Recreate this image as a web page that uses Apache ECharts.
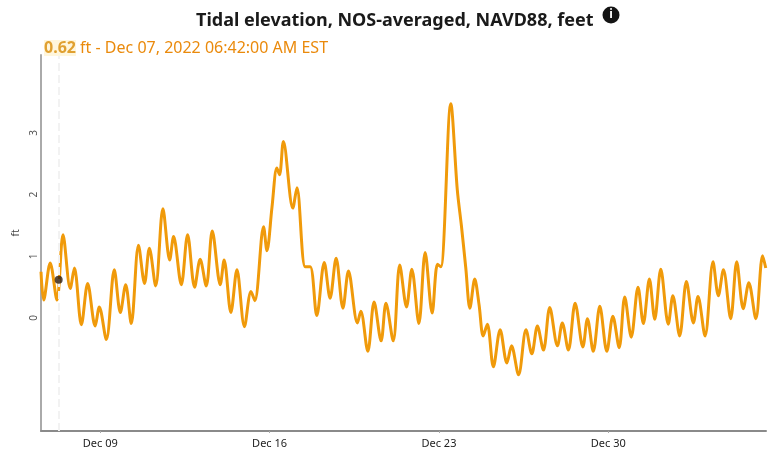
<!DOCTYPE html>
<html>
<head>
<meta charset="utf-8">
<title>Tidal elevation</title>
<script src="https://cdn.jsdelivr.net/npm/echarts@6/dist/echarts.min.js"></script>
<style>
  html, body { margin: 0; padding: 0; background: #fff; }
  #chart { width: 768px; height: 450px; }
</style>
</head>
<body>
<div id="chart"></div>
<script>
// x is counted in December days, so Jan 1 = day 32
const tideDays = [
  6.55, 6.66, 6.93, 7.21, 7.46, 7.76, 7.93, 8.22, 8.48, 8.79, 8.96, 9.25, 9.58, 9.83, 10.05, 10.28,
  10.58, 10.83, 11.03, 11.29, 11.59, 11.87, 12.03, 12.35, 12.61, 12.90, 13.13, 13.38, 13.63, 13.96, 14.12, 14.40,
  14.65, 14.96, 15.23, 15.39, 15.75, 15.89, 16.10, 16.30, 16.41, 16.57, 16.96, 17.13, 17.47, 17.68, 17.95, 18.26,
  18.50, 18.75, 19.03, 19.26, 19.63, 19.77, 20.06, 20.32, 20.61, 20.81, 21.11, 21.38, 21.66, 21.88, 22.17, 22.43,
  22.72, 22.94, 23.08, 23.49, 23.76, 23.93, 24.11, 24.28, 24.48, 24.66, 24.83, 25.00, 25.25,
  25.53, 25.81, 26.00, 26.29, 26.60, 26.84, 27.07, 27.32, 27.58, 27.90, 28.10, 28.35, 28.63, 28.95, 29.14, 29.38,
  29.65, 29.94, 30.19, 30.45, 30.68, 30.95, 31.23, 31.45, 31.70, 31.92, 32.17, 32.48, 32.67, 32.95, 33.23, 33.52,
  33.71, 34.00, 34.33, 34.55, 34.76, 35.06, 35.31, 35.58, 35.81, 36.10, 36.38, 36.51
];
const tideFeet = [
  0.75, 0.29, 0.89, 0.29, 1.35, 0.48, 0.81, -0.11, 0.56, -0.13, 0.18, -0.35, 0.78, 0.09, 0.54, -0.09,
  1.18, 0.56, 1.13, 0.52, 1.77, 0.94, 1.32, 0.54, 1.35, 0.50, 0.95, 0.52, 1.41, 0.54, 0.94, 0.09,
  0.78, -0.14, 0.43, 0.28, 1.48, 1.09, 1.80, 2.43, 2.32, 2.86, 1.78, 2.11, 0.83, 0.83, 0.04, 0.90,
  0.32, 0.97, 0.16, 0.76, -0.08, 0.11, -0.54, 0.26, -0.37, 0.24, -0.37, 0.86, 0.18, 0.79, -0.09, 1.06,
  0.08, 0.87, 0.83, 3.47, 2.07, 1.49, 0.81, 0.16, 0.63, 0.21, -0.29, -0.10, -0.79,
  -0.19, -0.73, -0.45, -0.92, -0.19, -0.58, -0.13, -0.52, 0.17, -0.45, -0.08, -0.52, 0.24, -0.47, -0.01, -0.54,
  0.19, -0.54, 0.03, -0.48, 0.34, -0.31, 0.50, -0.09, 0.63, -0.02, 0.79, -0.10, 0.36, -0.29, 0.59, -0.08,
  0.35, -0.29, 0.91, 0.36, 0.78, -0.01, 0.91, 0.15, 0.57, -0.01, 1.01, 0.81
];
const cursorDay = 7.28;
const cursorFeet = 0.62;
const xTickDays = [9, 16, 23, 30];
const xTickLabels = ['Dec 09', 'Dec 16', 'Dec 23', 'Dec 30'];
const yTicks = [0, 1, 2, 3];

const orange = '#f09a0a';
const chart = echarts.init(document.getElementById('chart'));

chart.setOption({
  animation: false,
  backgroundColor: '#fff',
  textStyle: { fontFamily: 'Noto Sans' },
  title: [
    {
      text: 'Tidal elevation, NOS-averaged, NAVD88, feet',
      left: 191,
      top: 7,
      textStyle: { fontSize: 18, fontWeight: 'bold', color: '#1a1a1a', fontFamily: 'Noto Sans' }
    },
    {
      text: '{v|' + cursorFeet + '}{u| ft - Dec 07, 2022 06:42:00 AM EST}',
      left: 39,
      top: 35,
      textStyle: {
        rich: {
          v: { fontSize: 16, fontWeight: 'bold', color: '#e0a030', backgroundColor: '#fff6dc', fontFamily: 'Noto Sans' },
          u: { fontSize: 16, fontWeight: 'normal', color: '#ea8a0c', fontFamily: 'Noto Sans' }
        }
      }
    }
  ],
  graphic: [
    { type: 'circle', shape: { cx: 611, cy: 15, r: 8.5 }, style: { fill: '#141414' } },
    { type: 'text', x: 611, y: 15, style: { text: 'i', fill: '#fff', font: 'bold 12px "Noto Sans"', align: 'center', verticalAlign: 'middle' } }
  ],
  grid: { left: 41, right: 2, top: 55, bottom: 19 },
  xAxis: {
    type: 'value',
    min: 6.55,
    max: 36.52,
    splitLine: { show: false },
    axisLine: { onZero: false, lineStyle: { color: '#8a8a8a', width: 2 } },
    axisTick: { show: true, length: 2, customValues: xTickDays, lineStyle: { color: '#aaa' } },
    axisLabel: {
      customValues: xTickDays,
      margin: 7,
      fontSize: 11,
      color: '#222',
      formatter: v => xTickLabels[xTickDays.indexOf(v)]
    }
  },
  yAxis: {
    type: 'value',
    min: -1.83,
    max: 4.26,
    name: 'ft',
    nameLocation: 'middle',
    nameGap: 18,
    nameTextStyle: { fontSize: 10, color: '#444', padding: [0, 0, 0, 20] },
    splitLine: { show: false },
    axisLine: { show: true, lineStyle: { color: '#aaa', width: 2 } },
    axisTick: { show: false },
    axisLabel: {
      customValues: yTicks,
      rotate: 90,
      margin: 2,
      fontSize: 10,
      color: '#555'
    }
  },
  series: [
    {
      type: 'line',
      data: tideDays.map((d, i) => [d, tideFeet[i]]),
      smooth: 0.32,
      symbol: 'none',
      lineStyle: { color: orange, width: 3 },
      silent: true
    },
    {
      type: 'scatter',
      data: [[cursorDay, cursorFeet]],
      symbolSize: 8,
      itemStyle: { color: '#2e1c0e' },
      z: 5,
      markLine: {
        silent: true,
        symbol: 'none',
        label: { show: false },
        lineStyle: { color: '#f2f2f2', type: 'dashed', width: 2 },
        data: [{ xAxis: cursorDay }]
      }
    }
  ]
});
</script>
</body>
</html>
